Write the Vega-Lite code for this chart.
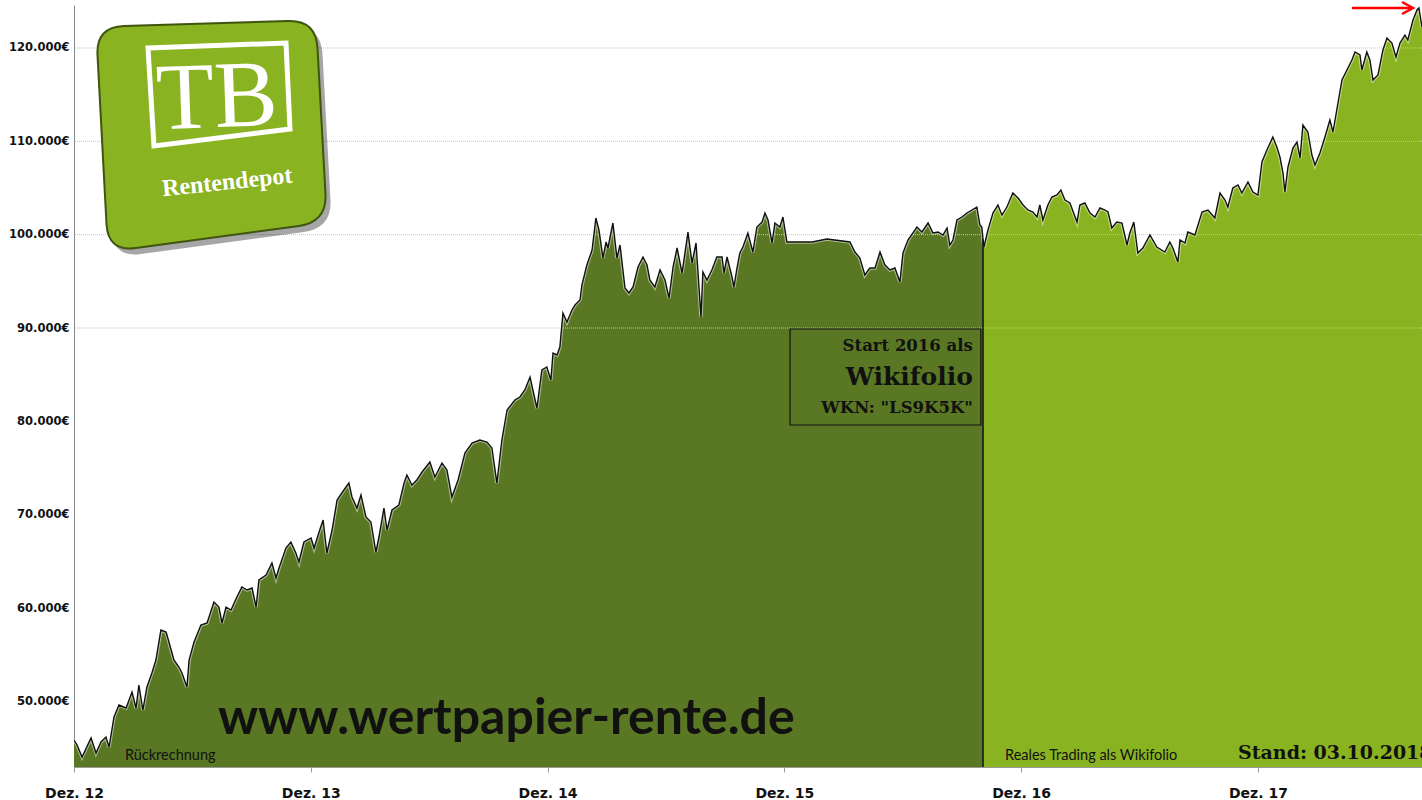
{
"$schema": "https://vega.github.io/schema/vega-lite/v6.json",
"width": 1348, "height": 762,
"autosize": {"type": "none"},
"padding": {"left": 74, "top": 5, "right": 0, "bottom": 33},
"background": "white",
"config": {"view": {"stroke": null}},
"data": {"values": [
{"t":2012.917,"v":45858,"p":"Rückrechnung"},{"t":2012.930,"v":45323,"p":"Rückrechnung"},{"t":2012.951,"v":44037,"p":"Rückrechnung"},{"t":2012.989,"v":46073,"p":"Rückrechnung"},{"t":2013.010,"v":44466,"p":"Rückrechnung"},{"t":2013.031,"v":45644,"p":"Rückrechnung"},{"t":2013.052,"v":46180,"p":"Rückrechnung"},{"t":2013.065,"v":45108,"p":"Rückrechnung"},{"t":2013.086,"v":48323,"p":"Rückrechnung"},{"t":2013.107,"v":49608,"p":"Rückrechnung"},{"t":2013.137,"v":49287,"p":"Rückrechnung"},{"t":2013.162,"v":51001,"p":"Rückrechnung"},{"t":2013.179,"v":49287,"p":"Rückrechnung"},{"t":2013.191,"v":51751,"p":"Rückrechnung"},{"t":2013.208,"v":49073,"p":"Rückrechnung"},{"t":2013.225,"v":51537,"p":"Rückrechnung"},{"t":2013.246,"v":53037,"p":"Rückrechnung"},{"t":2013.263,"v":54430,"p":"Rückrechnung"},{"t":2013.284,"v":57644,"p":"Rückrechnung"},{"t":2013.306,"v":57430,"p":"Rückrechnung"},{"t":2013.318,"v":56358,"p":"Rückrechnung"},{"t":2013.339,"v":54430,"p":"Rückrechnung"},{"t":2013.360,"v":53680,"p":"Rückrechnung"},{"t":2013.373,"v":53037,"p":"Rückrechnung"},{"t":2013.394,"v":51537,"p":"Rückrechnung"},{"t":2013.403,"v":54430,"p":"Rückrechnung"},{"t":2013.424,"v":56358,"p":"Rückrechnung"},{"t":2013.453,"v":58179,"p":"Rückrechnung"},{"t":2013.479,"v":58394,"p":"Rückrechnung"},{"t":2013.508,"v":60644,"p":"Rückrechnung"},{"t":2013.529,"v":60108,"p":"Rückrechnung"},{"t":2013.542,"v":58394,"p":"Rückrechnung"},{"t":2013.559,"v":60108,"p":"Rückrechnung"},{"t":2013.580,"v":59787,"p":"Rückrechnung"},{"t":2013.605,"v":61179,"p":"Rückrechnung"},{"t":2013.626,"v":62251,"p":"Rückrechnung"},{"t":2013.648,"v":61929,"p":"Rückrechnung"},{"t":2013.669,"v":62144,"p":"Rückrechnung"},{"t":2013.686,"v":60108,"p":"Rückrechnung"},{"t":2013.698,"v":63001,"p":"Rückrechnung"},{"t":2013.728,"v":63536,"p":"Rückrechnung"},{"t":2013.753,"v":64822,"p":"Rückrechnung"},{"t":2013.770,"v":63215,"p":"Rückrechnung"},{"t":2013.783,"v":64286,"p":"Rückrechnung"},{"t":2013.812,"v":66429,"p":"Rückrechnung"},{"t":2013.833,"v":67072,"p":"Rückrechnung"},{"t":2013.854,"v":65894,"p":"Rückrechnung"},{"t":2013.867,"v":64929,"p":"Rückrechnung"},{"t":2013.888,"v":67072,"p":"Rückrechnung"},{"t":2013.918,"v":67501,"p":"Rückrechnung"},{"t":2013.931,"v":66429,"p":"Rückrechnung"},{"t":2013.952,"v":68144,"p":"Rückrechnung"},{"t":2013.969,"v":69429,"p":"Rückrechnung"},{"t":2013.985,"v":65894,"p":"Rückrechnung"},{"t":2014.007,"v":68358,"p":"Rückrechnung"},{"t":2014.028,"v":71572,"p":"Rückrechnung"},{"t":2014.057,"v":72643,"p":"Rückrechnung"},{"t":2014.078,"v":73393,"p":"Rückrechnung"},{"t":2014.091,"v":71893,"p":"Rückrechnung"},{"t":2014.112,"v":70715,"p":"Rückrechnung"},{"t":2014.129,"v":72108,"p":"Rückrechnung"},{"t":2014.150,"v":69751,"p":"Rückrechnung"},{"t":2014.171,"v":69215,"p":"Rückrechnung"},{"t":2014.192,"v":66001,"p":"Rückrechnung"},{"t":2014.205,"v":67608,"p":"Rückrechnung"},{"t":2014.226,"v":70715,"p":"Rückrechnung"},{"t":2014.239,"v":68358,"p":"Rückrechnung"},{"t":2014.260,"v":70501,"p":"Rückrechnung"},{"t":2014.289,"v":71036,"p":"Rückrechnung"},{"t":2014.311,"v":73393,"p":"Rückrechnung"},{"t":2014.323,"v":74250,"p":"Rückrechnung"},{"t":2014.344,"v":73179,"p":"Rückrechnung"},{"t":2014.365,"v":73715,"p":"Rückrechnung"},{"t":2014.387,"v":74572,"p":"Rückrechnung"},{"t":2014.420,"v":75643,"p":"Rückrechnung"},{"t":2014.441,"v":74036,"p":"Rückrechnung"},{"t":2014.471,"v":75536,"p":"Rückrechnung"},{"t":2014.492,"v":74786,"p":"Rückrechnung"},{"t":2014.513,"v":71893,"p":"Rückrechnung"},{"t":2014.539,"v":73715,"p":"Rückrechnung"},{"t":2014.568,"v":76608,"p":"Rückrechnung"},{"t":2014.598,"v":77679,"p":"Rückrechnung"},{"t":2014.631,"v":78000,"p":"Rückrechnung"},{"t":2014.661,"v":77786,"p":"Rückrechnung"},{"t":2014.682,"v":77143,"p":"Rückrechnung"},{"t":2014.703,"v":73393,"p":"Rückrechnung"},{"t":2014.724,"v":78000,"p":"Rückrechnung"},{"t":2014.746,"v":81215,"p":"Rückrechnung"},{"t":2014.779,"v":82286,"p":"Rückrechnung"},{"t":2014.800,"v":82607,"p":"Rückrechnung"},{"t":2014.821,"v":83357,"p":"Rückrechnung"},{"t":2014.843,"v":84750,"p":"Rückrechnung"},{"t":2014.872,"v":81429,"p":"Rückrechnung"},{"t":2014.893,"v":85500,"p":"Rückrechnung"},{"t":2014.914,"v":85822,"p":"Rückrechnung"},{"t":2014.931,"v":84429,"p":"Rückrechnung"},{"t":2014.940,"v":87322,"p":"Rückrechnung"},{"t":2014.957,"v":87108,"p":"Rückrechnung"},{"t":2014.969,"v":87964,"p":"Rückrechnung"},{"t":2014.982,"v":91607,"p":"Rückrechnung"},{"t":2014.999,"v":90643,"p":"Rückrechnung"},{"t":2015.020,"v":91929,"p":"Rückrechnung"},{"t":2015.033,"v":92464,"p":"Rückrechnung"},{"t":2015.054,"v":93000,"p":"Rückrechnung"},{"t":2015.062,"v":94607,"p":"Rückrechnung"},{"t":2015.083,"v":96750,"p":"Rückrechnung"},{"t":2015.105,"v":98357,"p":"Rückrechnung"},{"t":2015.121,"v":101785,"p":"Rückrechnung"},{"t":2015.134,"v":100500,"p":"Rückrechnung"},{"t":2015.151,"v":97500,"p":"Rückrechnung"},{"t":2015.164,"v":99214,"p":"Rückrechnung"},{"t":2015.172,"v":98571,"p":"Rückrechnung"},{"t":2015.193,"v":101250,"p":"Rückrechnung"},{"t":2015.210,"v":97500,"p":"Rückrechnung"},{"t":2015.223,"v":98893,"p":"Rückrechnung"},{"t":2015.244,"v":94286,"p":"Rückrechnung"},{"t":2015.261,"v":93750,"p":"Rückrechnung"},{"t":2015.278,"v":94393,"p":"Rückrechnung"},{"t":2015.299,"v":96536,"p":"Rückrechnung"},{"t":2015.320,"v":97607,"p":"Rückrechnung"},{"t":2015.337,"v":96750,"p":"Rückrechnung"},{"t":2015.349,"v":95143,"p":"Rückrechnung"},{"t":2015.370,"v":94393,"p":"Rückrechnung"},{"t":2015.392,"v":96214,"p":"Rückrechnung"},{"t":2015.413,"v":95143,"p":"Rückrechnung"},{"t":2015.430,"v":93214,"p":"Rückrechnung"},{"t":2015.447,"v":96536,"p":"Rückrechnung"},{"t":2015.464,"v":98571,"p":"Rückrechnung"},{"t":2015.485,"v":95893,"p":"Rückrechnung"},{"t":2015.510,"v":100286,"p":"Rückrechnung"},{"t":2015.527,"v":96964,"p":"Rückrechnung"},{"t":2015.544,"v":99107,"p":"Rückrechnung"},{"t":2015.565,"v":91179,"p":"Rückrechnung"},{"t":2015.573,"v":96000,"p":"Rückrechnung"},{"t":2015.590,"v":95143,"p":"Rückrechnung"},{"t":2015.611,"v":96214,"p":"Rückrechnung"},{"t":2015.632,"v":97607,"p":"Rückrechnung"},{"t":2015.654,"v":97607,"p":"Rückrechnung"},{"t":2015.662,"v":95893,"p":"Rückrechnung"},{"t":2015.675,"v":97607,"p":"Rückrechnung"},{"t":2015.696,"v":95464,"p":"Rückrechnung"},{"t":2015.704,"v":94393,"p":"Rückrechnung"},{"t":2015.717,"v":96428,"p":"Rückrechnung"},{"t":2015.729,"v":98036,"p":"Rückrechnung"},{"t":2015.742,"v":98678,"p":"Rückrechnung"},{"t":2015.763,"v":100178,"p":"Rückrechnung"},{"t":2015.784,"v":98143,"p":"Rückrechnung"},{"t":2015.801,"v":100821,"p":"Rückrechnung"},{"t":2015.823,"v":101357,"p":"Rückrechnung"},{"t":2015.835,"v":102321,"p":"Rückrechnung"},{"t":2015.848,"v":101571,"p":"Rückrechnung"},{"t":2015.865,"v":99107,"p":"Rückrechnung"},{"t":2015.877,"v":101250,"p":"Rückrechnung"},{"t":2015.898,"v":100821,"p":"Rückrechnung"},{"t":2015.911,"v":101893,"p":"Rückrechnung"},{"t":2015.928,"v":99214,"p":"Rückrechnung"},{"t":2016.034,"v":99214,"p":"Rückrechnung"},{"t":2016.097,"v":99536,"p":"Rückrechnung"},{"t":2016.194,"v":99214,"p":"Rückrechnung"},{"t":2016.215,"v":98143,"p":"Rückrechnung"},{"t":2016.236,"v":97500,"p":"Rückrechnung"},{"t":2016.257,"v":95678,"p":"Rückrechnung"},{"t":2016.278,"v":96428,"p":"Rückrechnung"},{"t":2016.300,"v":96428,"p":"Rückrechnung"},{"t":2016.321,"v":98143,"p":"Rückrechnung"},{"t":2016.342,"v":96750,"p":"Rückrechnung"},{"t":2016.363,"v":96214,"p":"Rückrechnung"},{"t":2016.384,"v":96428,"p":"Rückrechnung"},{"t":2016.405,"v":94929,"p":"Rückrechnung"},{"t":2016.418,"v":98036,"p":"Rückrechnung"},{"t":2016.439,"v":99428,"p":"Rückrechnung"},{"t":2016.477,"v":100821,"p":"Rückrechnung"},{"t":2016.498,"v":100286,"p":"Rückrechnung"},{"t":2016.524,"v":101250,"p":"Rückrechnung"},{"t":2016.545,"v":100178,"p":"Rückrechnung"},{"t":2016.566,"v":100286,"p":"Rückrechnung"},{"t":2016.587,"v":99964,"p":"Rückrechnung"},{"t":2016.604,"v":100714,"p":"Rückrechnung"},{"t":2016.616,"v":98893,"p":"Rückrechnung"},{"t":2016.629,"v":99428,"p":"Rückrechnung"},{"t":2016.646,"v":101571,"p":"Rückrechnung"},{"t":2016.667,"v":101893,"p":"Rückrechnung"},{"t":2016.688,"v":102321,"p":"Rückrechnung"},{"t":2016.709,"v":102643,"p":"Rückrechnung"},{"t":2016.730,"v":102964,"p":"Rückrechnung"},{"t":2016.743,"v":101035,"p":"Rückrechnung"},{"t":2016.751,"v":100821,"p":"Rückrechnung"},{"t":2016.756,"v":99500,"p":"Rückrechnung"},
{"t":2016.756,"v":99500,"p":"Wikifolio"},{"t":2016.760,"v":98678,"p":"Wikifolio"},{"t":2016.777,"v":100500,"p":"Wikifolio"},{"t":2016.798,"v":102321,"p":"Wikifolio"},{"t":2016.819,"v":103178,"p":"Wikifolio"},{"t":2016.836,"v":102107,"p":"Wikifolio"},{"t":2016.857,"v":102964,"p":"Wikifolio"},{"t":2016.882,"v":104464,"p":"Wikifolio"},{"t":2016.904,"v":103928,"p":"Wikifolio"},{"t":2016.925,"v":103178,"p":"Wikifolio"},{"t":2016.946,"v":102643,"p":"Wikifolio"},{"t":2016.967,"v":102428,"p":"Wikifolio"},{"t":2016.984,"v":101893,"p":"Wikifolio"},{"t":2016.996,"v":103178,"p":"Wikifolio"},{"t":2017.009,"v":101571,"p":"Wikifolio"},{"t":2017.030,"v":103178,"p":"Wikifolio"},{"t":2017.047,"v":104035,"p":"Wikifolio"},{"t":2017.068,"v":104250,"p":"Wikifolio"},{"t":2017.085,"v":104785,"p":"Wikifolio"},{"t":2017.102,"v":103714,"p":"Wikifolio"},{"t":2017.123,"v":103393,"p":"Wikifolio"},{"t":2017.153,"v":101357,"p":"Wikifolio"},{"t":2017.165,"v":103178,"p":"Wikifolio"},{"t":2017.186,"v":103393,"p":"Wikifolio"},{"t":2017.208,"v":102321,"p":"Wikifolio"},{"t":2017.229,"v":101893,"p":"Wikifolio"},{"t":2017.250,"v":102857,"p":"Wikifolio"},{"t":2017.271,"v":102643,"p":"Wikifolio"},{"t":2017.284,"v":102428,"p":"Wikifolio"},{"t":2017.300,"v":100714,"p":"Wikifolio"},{"t":2017.321,"v":101357,"p":"Wikifolio"},{"t":2017.343,"v":101250,"p":"Wikifolio"},{"t":2017.364,"v":98893,"p":"Wikifolio"},{"t":2017.376,"v":100178,"p":"Wikifolio"},{"t":2017.393,"v":101357,"p":"Wikifolio"},{"t":2017.410,"v":98036,"p":"Wikifolio"},{"t":2017.431,"v":98571,"p":"Wikifolio"},{"t":2017.461,"v":99964,"p":"Wikifolio"},{"t":2017.490,"v":98678,"p":"Wikifolio"},{"t":2017.524,"v":98143,"p":"Wikifolio"},{"t":2017.545,"v":99214,"p":"Wikifolio"},{"t":2017.558,"v":98571,"p":"Wikifolio"},{"t":2017.579,"v":97071,"p":"Wikifolio"},{"t":2017.588,"v":99428,"p":"Wikifolio"},{"t":2017.609,"v":99107,"p":"Wikifolio"},{"t":2017.621,"v":100286,"p":"Wikifolio"},{"t":2017.651,"v":99964,"p":"Wikifolio"},{"t":2017.681,"v":102428,"p":"Wikifolio"},{"t":2017.706,"v":102643,"p":"Wikifolio"},{"t":2017.735,"v":101785,"p":"Wikifolio"},{"t":2017.757,"v":104464,"p":"Wikifolio"},{"t":2017.778,"v":103714,"p":"Wikifolio"},{"t":2017.790,"v":102964,"p":"Wikifolio"},{"t":2017.811,"v":105000,"p":"Wikifolio"},{"t":2017.833,"v":105321,"p":"Wikifolio"},{"t":2017.849,"v":104464,"p":"Wikifolio"},{"t":2017.875,"v":105643,"p":"Wikifolio"},{"t":2017.896,"v":104571,"p":"Wikifolio"},{"t":2017.917,"v":104250,"p":"Wikifolio"},{"t":2017.934,"v":107785,"p":"Wikifolio"},{"t":2017.955,"v":109071,"p":"Wikifolio"},{"t":2017.980,"v":110464,"p":"Wikifolio"},{"t":2017.997,"v":109392,"p":"Wikifolio"},{"t":2018.010,"v":108321,"p":"Wikifolio"},{"t":2018.023,"v":106607,"p":"Wikifolio"},{"t":2018.031,"v":104571,"p":"Wikifolio"},{"t":2018.044,"v":107250,"p":"Wikifolio"},{"t":2018.065,"v":109285,"p":"Wikifolio"},{"t":2018.082,"v":109928,"p":"Wikifolio"},{"t":2018.095,"v":108214,"p":"Wikifolio"},{"t":2018.107,"v":111749,"p":"Wikifolio"},{"t":2018.128,"v":111000,"p":"Wikifolio"},{"t":2018.145,"v":108535,"p":"Wikifolio"},{"t":2018.158,"v":107464,"p":"Wikifolio"},{"t":2018.179,"v":108750,"p":"Wikifolio"},{"t":2018.200,"v":110464,"p":"Wikifolio"},{"t":2018.221,"v":112285,"p":"Wikifolio"},{"t":2018.234,"v":111000,"p":"Wikifolio"},{"t":2018.250,"v":113357,"p":"Wikifolio"},{"t":2018.272,"v":116571,"p":"Wikifolio"},{"t":2018.293,"v":117642,"p":"Wikifolio"},{"t":2018.314,"v":118714,"p":"Wikifolio"},{"t":2018.327,"v":119571,"p":"Wikifolio"},{"t":2018.348,"v":119249,"p":"Wikifolio"},{"t":2018.356,"v":117642,"p":"Wikifolio"},{"t":2018.377,"v":119571,"p":"Wikifolio"},{"t":2018.390,"v":118714,"p":"Wikifolio"},{"t":2018.403,"v":116571,"p":"Wikifolio"},{"t":2018.424,"v":117106,"p":"Wikifolio"},{"t":2018.445,"v":119785,"p":"Wikifolio"},{"t":2018.462,"v":121071,"p":"Wikifolio"},{"t":2018.483,"v":120535,"p":"Wikifolio"},{"t":2018.500,"v":119035,"p":"Wikifolio"},{"t":2018.517,"v":120535,"p":"Wikifolio"},{"t":2018.538,"v":121392,"p":"Wikifolio"},{"t":2018.550,"v":120856,"p":"Wikifolio"},{"t":2018.572,"v":122999,"p":"Wikifolio"},{"t":2018.589,"v":124071,"p":"Wikifolio"},{"t":2018.597,"v":124285,"p":"Wikifolio"},{"t":2018.610,"v":122249,"p":"Wikifolio"}
]},
"layer": [
{"mark": {"type": "area", "clip": true, "opacity": 1},
 "encoding": {
  "x": {"field": "t", "type": "quantitative", "scale": {"domain": [2012.917, 2018.61], "nice": false, "zero": false},
        "axis": {"values": [2012.917, 2013.917, 2014.917, 2015.917, 2016.917, 2017.917], "labelExpr": "'Dez. ' + floor(datum.value) % 100", "title": null, "grid": false, "domainColor": "#9a9a9a", "tickColor": "#9a9a9a", "tickSize": 5, "labelFont": "DejaVu Sans", "labelFontWeight": "bold", "labelFontSize": 14, "labelColor": "#111111", "labelPadding": 14, "labelFlush": false, "labelOverlap": false}},
  "y": {"field": "v", "type": "quantitative", "stack": null, "scale": {"domain": [42966, 124607], "nice": false, "zero": false},
        "axis": {"values": [50000, 60000, 70000, 80000, 90000, 100000, 110000, 120000], "labelExpr": "replace(format(datum.value, ',d'), ',', '.') + '€'", "title": null, "grid": false, "ticks": false, "domainColor": "#8a8a8a", "labelFont": "DejaVu Sans", "labelFontWeight": "bold", "labelFontSize": 11.5, "labelColor": "#111111", "labelPadding": 5, "labelOverlap": false}},
  "color": {"field": "p", "type": "nominal", "scale": {"domain": ["Rückrechnung", "Wikifolio"], "range": ["#5a7824", "#8ab321"]}, "legend": null}
 }},
{"data": {"values": [{"g": 90000}, {"g": 100000}, {"g": 110000}, {"g": 120000}]},
 "mark": {"type": "rule", "color": "#c4c4c4", "strokeDash": [1, 1], "strokeWidth": 1},
 "encoding": {"y": {"field": "g", "type": "quantitative"}}},
{"mark": {"type": "line", "color": "#ffffff", "strokeWidth": 3.5, "opacity": 0.5, "clip": true},
 "encoding": {"x": {"field": "t", "type": "quantitative"}, "y": {"field": "v", "type": "quantitative"}}},
{"mark": {"type": "line", "color": "#111111", "strokeWidth": 1.4, "clip": true},
 "encoding": {"x": {"field": "t", "type": "quantitative"}, "y": {"field": "v", "type": "quantitative"}}},
{"data": {"values": [{}]},
 "mark": {"type": "rule", "color": "#111111", "strokeWidth": 1.5},
 "encoding": {"x": {"datum": 2016.756, "type": "quantitative"}, "y": {"datum": 42966, "type": "quantitative"}, "y2": {"datum": 99500}}},
{"data": {"values": [{}]},
 "mark": {"type": "rect", "fillOpacity": 0, "stroke": "#111111", "strokeWidth": 1.2},
 "encoding": {"x": {"datum": 2015.941, "type": "quantitative"}, "x2": {"datum": 2016.747}, "y": {"datum": 89893, "type": "quantitative"}, "y2": {"datum": 79607}}},
{"data": {"values": [{}]},
 "mark": {"type": "text", "text": "Start 2016 als", "font": "DejaVu Serif", "fontWeight": "bold", "fontSize": 16.5, "align": "right", "baseline": "alphabetic", "color": "#111111"},
 "encoding": {"x": {"datum": 2016.713, "type": "quantitative"}, "y": {"datum": 87536, "type": "quantitative"}}},
{"data": {"values": [{}]},
 "mark": {"type": "text", "text": "Wikifolio", "font": "DejaVu Serif", "fontWeight": "bold", "fontSize": 25, "align": "right", "baseline": "alphabetic", "color": "#111111"},
 "encoding": {"x": {"datum": 2016.713, "type": "quantitative"}, "y": {"datum": 83893, "type": "quantitative"}}},
{"data": {"values": [{}]},
 "mark": {"type": "text", "text": "WKN: \"LS9K5K\"", "font": "DejaVu Serif", "fontWeight": "bold", "fontSize": 16.5, "align": "right", "baseline": "alphabetic", "color": "#111111"},
 "encoding": {"x": {"datum": 2016.713, "type": "quantitative"}, "y": {"datum": 80893, "type": "quantitative"}}},
{"data": {"values": [{}]},
 "mark": {"type": "text", "text": "www.wertpapier-rente.de", "font": "Lato", "fontWeight": "bold", "fontSize": 50, "align": "left", "baseline": "alphabetic", "color": "#111111"},
 "encoding": {"x": {"datum": 2013.525, "type": "quantitative"}, "y": {"datum": 46500, "type": "quantitative"}}},
{"data": {"values": [{}]},
 "mark": {"type": "text", "text": "Rückrechnung", "font": "Lato", "fontSize": 14.5, "align": "left", "baseline": "alphabetic", "color": "#111111"},
 "encoding": {"x": {"datum": 2013.132, "type": "quantitative"}, "y": {"datum": 43716, "type": "quantitative"}}},
{"data": {"values": [{}]},
 "mark": {"type": "text", "text": "Reales Trading als Wikifolio", "font": "Lato", "fontSize": 14.5, "align": "left", "baseline": "alphabetic", "color": "#111111"},
 "encoding": {"x": {"datum": 2016.849, "type": "quantitative"}, "y": {"datum": 43716, "type": "quantitative"}}},
{"data": {"values": [{}]},
 "mark": {"type": "text", "text": "Stand: 03.10.2018", "font": "DejaVu Serif", "fontWeight": "bold", "fontSize": 19, "align": "left", "baseline": "alphabetic", "color": "#111111"},
 "encoding": {"x": {"datum": 2017.833, "type": "quantitative"}, "y": {"datum": 43823, "type": "quantitative"}}},
{"data": {"values": [{}]},
 "mark": {"type": "point", "shape": "M -89 -109 L 75 -114 Q 103 -115 104.5 -87 L 112.5 59 Q 114 87 86 91 L -77 113 Q -105 117 -106.5 89 L -115.5 -80 Q -117 -108 -89 -109 Z", "size": 4, "filled": true, "fill": "#000000", "strokeWidth": 0, "opacity": 0.35, "xOffset": 5, "yOffset": 6},
 "encoding": {"x": {"datum": 2013.504, "type": "quantitative"}, "y": {"datum": 110678, "type": "quantitative"}}},
{"data": {"values": [{}]},
 "mark": {"type": "point", "shape": "M -89 -109 L 75 -114 Q 103 -115 104.5 -87 L 112.5 59 Q 114 87 86 91 L -77 113 Q -105 117 -106.5 89 L -115.5 -80 Q -117 -108 -89 -109 Z", "size": 4, "filled": true, "fill": "#8ab321", "stroke": "#3f540f", "strokeWidth": 2, "opacity": 1},
 "encoding": {"x": {"datum": 2013.504, "type": "quantitative"}, "y": {"datum": 110678, "type": "quantitative"}}},
{"data": {"values": [{}]},
 "mark": {"type": "point", "shape": "M -65 -87 L 73 -92 L 77 -6 L -59 11 Z", "size": 4, "filled": false, "color": "#ffffff", "strokeWidth": 5, "opacity": 1},
 "encoding": {"x": {"datum": 2013.504, "type": "quantitative"}, "y": {"datum": 110678, "type": "quantitative"}}},
{"data": {"values": [{}]},
 "mark": {"type": "text", "text": "TB", "font": "Liberation Serif", "fontSize": 95, "align": "center", "baseline": "alphabetic", "color": "#ffffff", "angle": -2},
 "encoding": {"x": {"datum": 2013.525, "type": "quantitative"}, "y": {"datum": 111535, "type": "quantitative"}}},
{"data": {"values": [{}]},
 "mark": {"type": "text", "text": "Rentendepot", "font": "Liberation Serif", "fontWeight": "bold", "fontSize": 24, "align": "center", "baseline": "alphabetic", "color": "#ffffff", "angle": -6},
 "encoding": {"x": {"datum": 2013.567, "type": "quantitative"}, "y": {"datum": 104839, "type": "quantitative"}}},
{"data": {"values": [{}]},
 "mark": {"type": "rule", "color": "#ff0000", "strokeWidth": 2.5},
 "encoding": {"x": {"datum": 2018.314, "type": "quantitative"}, "x2": {"datum": 2018.568}, "y": {"datum": 124285, "type": "quantitative"}}},
{"data": {"values": [{}]},
 "mark": {"type": "point", "shape": "M -11 -6 L 0 0 L -11 6", "size": 4, "filled": false, "color": "#ff0000", "strokeWidth": 2.5, "opacity": 1},
 "encoding": {"x": {"datum": 2018.572, "type": "quantitative"}, "y": {"datum": 124285, "type": "quantitative"}}}
]
}
